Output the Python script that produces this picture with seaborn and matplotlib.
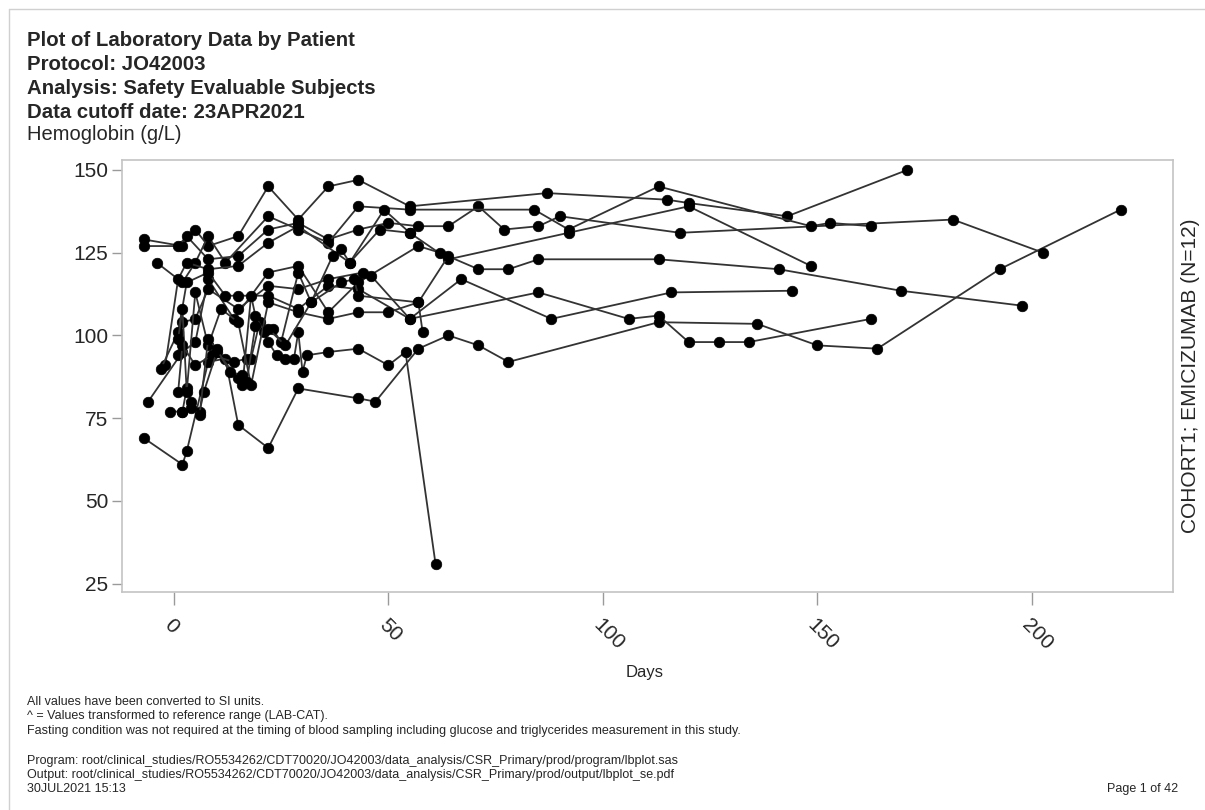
import matplotlib
matplotlib.use("Agg")
import matplotlib.pyplot as plt
import seaborn as sns
import pandas as pd

# ---------------- data (study day, hemoglobin g/L) per patient ----------------
p01_day = [-7, 2, 5, 8, 15, 22, 29, 36, 43, 55, 87, 115, 120, 143, 171]
p01_hgb = [129, 127, 132, 127, 130, 145, 135, 145, 147, 139, 143, 141, 140, 136, 150]

p02_day = [-7, 2, 3, 8, 12, 15, 22, 29, 43, 47, 57, 64, 71, 78, 113, 136, 150, 164, 192.5, 220.7]
p02_hgb = [69, 61, 65, 92, 93, 73, 66, 84, 81, 80, 96, 100, 97, 92, 104, 103.5, 97, 96, 120, 138]

p03_day = [-7, 1, 3, 8, 15, 22, 29, 36, 43, 50, 57, 64, 71, 77, 85, 90, 118, 181.6, 202.6]
p03_hgb = [127, 127, 130, 123, 124, 132, 134, 129, 132, 134, 133, 133, 139, 132, 133, 136, 131, 135, 125]

p04_day = [-4, 2, 5, 8, 12, 22, 29, 36, 43, 55, 84, 92, 113, 148.5, 153, 162.5]
p04_hgb = [122, 116, 122, 130, 122, 136, 132, 128, 139, 138, 138, 132, 145, 133, 134, 133]

p05_day = [-2, 1, 3, 8, 15, 22, 29, 41, 49, 55, 64, 92, 120, 148.5]
p05_hgb = [91, 117, 122, 120, 121, 128, 133, 122, 138, 131, 123, 131, 139, 121]

p06_day = [-6, 2, 5, 8, 14, 22, 29, 36, 43, 57, 62, 71, 78, 85, 113, 141, 169.5, 197.7]
p06_hgb = [80, 95, 98, 117, 105, 119, 121, 107, 116, 127, 125, 120, 120, 123, 123, 120, 113.5, 109]

p07_day = [1, 2, 5, 8, 15, 22, 29, 36, 44, 46, 55, 67, 88, 116, 144]
p07_hgb = [94, 104, 105, 114, 108, 115, 114, 117, 119, 118, 105, 117, 105, 113, 113.5]

p08_day = [-3, 1, 3, 8, 12, 15, 22, 29, 36, 43, 55, 85, 106, 113, 120, 127, 134, 162.5]
p08_hgb = [90, 101, 116, 119, 112, 112, 112, 108, 115, 114, 105, 113, 105, 106, 98, 98, 98, 105]

p09_day = [1, 2, 5, 9, 14, 17, 18, 20, 22, 24, 26, 28, 29, 30, 31, 36, 43, 50, 54, 61]
p09_hgb = [83, 97, 91, 94, 92, 93, 93, 104, 98, 94, 93, 93, 101, 89, 94, 95, 96, 91, 95, 31]

p10_day = [2, 3, 4, 6, 7, 10, 15, 16, 18, 19, 21, 23, 25, 29, 32, 39, 42, 43, 57, 58]
p10_hgb = [77, 84, 80, 77, 83, 95, 87, 85, 112, 106, 101, 102, 98, 119, 110, 116, 117, 112, 110, 101]

p11_day = [1, 2, 3, 5, 8, 11, 15, 18, 22, 29, 36, 43, 50, 57, 64]
p11_hgb = [99, 108, 83, 113, 97, 108, 104, 85, 110, 107, 105, 107, 107, 110, 124]

p12_day = [-1, 2, 4, 6, 8, 10, 13, 16, 17, 19, 22, 26, 32, 37, 39, 41, 48, 55]
p12_hgb = [77, 77, 78, 76, 99, 96, 89, 88, 86, 103, 102, 97, 110, 124, 126, 122, 132, 131]

x_ticks = [0, 50, 100, 150, 200]
y_ticks = [25, 50, 75, 100, 125, 150]

title_lines = ["Plot of Laboratory Data by Patient",
               "Protocol: JO42003",
               "Analysis: Safety Evaluable Subjects",
               "Data cutoff date: 23APR2021"]
param_label = "Hemoglobin (g/L)"
panel_label = "COHORT1; EMICIZUMAB (N=12)"
x_label = "Days"
footnotes = ["All values have been converted to SI units.",
             "^ = Values transformed to reference range (LAB-CAT).",
             "Fasting condition was not required at the timing of blood sampling including glucose and triglycerides measurement in this study."]
program_lines = ["Program: root/clinical_studies/RO5534262/CDT70020/JO42003/data_analysis/CSR_Primary/prod/program/lbplot.sas",
                 "Output: root/clinical_studies/RO5534262/CDT70020/JO42003/data_analysis/CSR_Primary/prod/output/lbplot_se.pdf",
                 "30JUL2021 15:13"]
page_label = "Page 1 of 42"

# ---------------- build long table ----------------
patients = [(p01_day, p01_hgb), (p02_day, p02_hgb), (p03_day, p03_hgb), (p04_day, p04_hgb),
            (p05_day, p05_hgb), (p06_day, p06_hgb), (p07_day, p07_hgb), (p08_day, p08_hgb),
            (p09_day, p09_hgb), (p10_day, p10_hgb), (p11_day, p11_hgb), (p12_day, p12_hgb)]
rows = []
for i, (d, v) in enumerate(patients):
    for dd, vv in zip(d, v):
        rows.append({"patient": f"P{i+1:02d}", "day": dd, "hgb": vv})
df = pd.DataFrame(rows)

# ---------------- figure ----------------
sns.set_theme(style="white")
plt.rcParams["font.family"] = ["Liberation Sans", "DejaVu Sans"]

fig = plt.figure(figsize=(12.05, 8.10), dpi=100)
ax = fig.add_axes([0.1012, 0.2691, 0.8722, 0.5334])

sns.lineplot(data=df, x="day", y="hgb", units="patient", estimator=None, sort=False,
             color="#333333", linewidth=1.3, marker="o", markersize=7.6,
             markerfacecolor="black", markeredgecolor="black", markeredgewidth=0.5,
             ax=ax, legend=False)

ax.set_xlim(-12.1, 232.9)
ax.set_ylim(22.5, 153)
ax.set_xticks(x_ticks)
ax.set_yticks(y_ticks)
ax.set_xticklabels([str(t) for t in x_ticks], rotation=-45, ha="left", va="top",
                   rotation_mode="anchor", fontsize=15)
ax.set_yticklabels([str(t) for t in y_ticks], fontsize=15)
ax.tick_params(axis="both", which="major", direction="out", length=7, width=1,
               color="#9a9a9a", bottom=True, left=True, top=False, right=False)
ax.tick_params(axis="y", pad=3)
ax.tick_params(axis="x", length=9, pad=8)
for s in ax.spines.values():
    s.set_color("#c4c4c4")
    s.set_linewidth(1.2)
ax.set_xlabel("")
ax.set_ylabel("")

fig.text(645 / 1205, 1 - 673 / 810, x_label, ha="center", va="center", fontsize=12)
fig.text(1190 / 1205, 1 - 376 / 810, panel_label, ha="center", va="center",
         rotation=90, fontsize=15)

# titles
for i, t in enumerate(title_lines):
    fig.text(27 / 1205, 1 - (40 + 24 * i) / 810, t, ha="left", va="center",
             fontsize=14.7, fontweight="bold")
fig.text(27 / 1205, 1 - 135 / 810, param_label, ha="left", va="center", fontsize=14.5)

# footnotes
for i, t in enumerate(footnotes):
    fig.text(27 / 1205, 1 - (702 + 14.5 * i) / 810, t, ha="left", va="center", fontsize=9)
for i, t in enumerate(program_lines):
    fig.text(27 / 1205, 1 - (761 + 14 * i) / 810, t, ha="left", va="center", fontsize=9)
fig.text(1178 / 1205, 1 - 789 / 810, page_label, ha="right", va="center", fontsize=9)

# page border (top and left)
fig.add_artist(plt.Line2D([9 / 1205, 1.0], [1 - 9 / 810, 1 - 9 / 810],
                          transform=fig.transFigure, color="#d0d0d0", lw=1))
fig.add_artist(plt.Line2D([9 / 1205, 9 / 1205], [0, 1 - 9 / 810],
                          transform=fig.transFigure, color="#d0d0d0", lw=1))

fig.savefig("out.png", dpi=100)
